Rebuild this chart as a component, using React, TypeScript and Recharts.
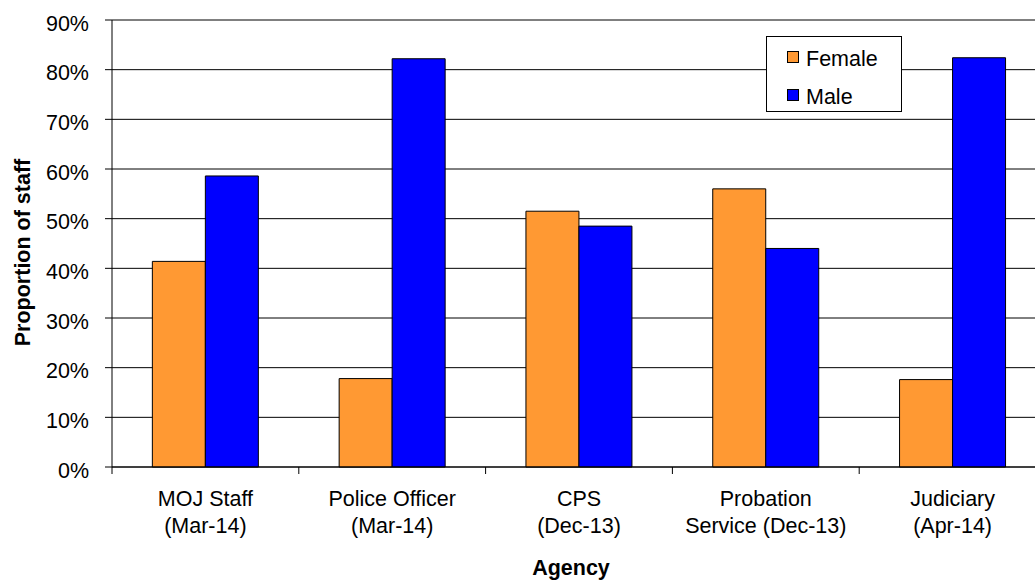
import { BarChart, Bar, XAxis, YAxis, CartesianGrid, Legend, Label } from 'recharts';

const agencies = ['MOJ Staff', 'Police Officer', 'CPS', 'Probation Service', 'Judiciary'];
const labelTop = ['MOJ Staff', 'Police Officer', 'CPS', 'Probation', 'Judiciary'];
const labelBottom = ['(Mar-14)', '(Mar-14)', '(Dec-13)', 'Service (Dec-13)', '(Apr-14)'];
const female = [41.4, 17.8, 51.5, 56.0, 17.6];
const male = [58.6, 82.2, 48.5, 44.0, 82.4];
const yTicks = [0, 10, 20, 30, 40, 50, 60, 70, 80, 90];

const data = agencies.map((agency, i) => ({ agency, Female: female[i], Male: male[i] }));

const FONT = '"Liberation Sans", Arial, sans-serif';
const FS = 21.5;

function AgencyTick(props: any) {
  const { x, y, width, visibleTicksCount, index, payload } = props;
  const half = width / visibleTicksCount / 2;
  const i = agencies.indexOf(payload.value);
  return (
    <g>
      <line x1={x - half} x2={x - half} y1={y} y2={y + 7} stroke="#000" />
      {index === visibleTicksCount - 1 && (
        <line x1={x + half} x2={x + half} y1={y} y2={y + 7} stroke="#000" />
      )}
      <text x={x} y={y} textAnchor="middle" fontSize={FS} fontFamily={FONT} fill="#000">
        <tspan x={x} dy={39}>{labelTop[i]}</tspan>
        <tspan x={x} dy={27}>{labelBottom[i]}</tspan>
      </text>
    </g>
  );
}

function LegendBox(props: any) {
  const items = props.payload || [];
  return (
    <div
      style={{
        position: 'relative',
        width: 136,
        height: 76,
        border: '1px solid #000',
        background: '#fff',
        boxSizing: 'border-box',
        fontFamily: FONT,
        fontSize: FS,
        color: '#000',
      }}
    >
      {items.map((item: any, i: number) => (
        <div key={item.value}>
          <div
            style={{
              position: 'absolute',
              left: 20,
              top: 14 + i * 37.5,
              width: 12,
              height: 12,
              background: item.color,
              border: '1px solid #000',
              boxSizing: 'border-box',
            }}
          />
          <div style={{ position: 'absolute', left: 39, top: 10 + i * 37.5, lineHeight: 'normal' }}>
            {item.value}
          </div>
        </div>
      ))}
    </div>
  );
}

export default function App() {
  return (
    <div
      style={{
        position: 'absolute',
        left: 0,
        top: 0,
        width: 1035,
        height: 581,
        overflow: 'hidden',
        background: '#fff',
        fontFamily: FONT,
      }}
    >
      <BarChart
        width={1046}
        height={581}
        data={data}
        margin={{ top: 20, right: 0, left: 0, bottom: 0 }}
        barCategoryGap="21.6%"
        barGap={0}
      >
        <CartesianGrid vertical={false} stroke="#000" />
        <XAxis
          dataKey="agency"
          interval={0}
          height={114}
          tickSize={0}
          tickMargin={0}
          tickLine={false}
          axisLine={{ stroke: '#000' }}
          tick={<AgencyTick />}
        >
          <Label
            content={({ viewBox }: any) => (
              <text
                x={viewBox.x + viewBox.width / 2 - 8}
                y={viewBox.y + 108}
                textAnchor="middle"
                fontWeight="bold"
                fontSize={FS}
                fontFamily={FONT}
                fill="#000"
              >
                Agency
              </text>
            )}
          />
        </XAxis>
        <YAxis
          width={112}
          domain={[0, 90]}
          ticks={yTicks}
          interval={0}
          tickFormatter={(v: number) => `${v}%`}
          tickSize={7}
          tickMargin={16}
          axisLine={{ stroke: '#000' }}
          tickLine={{ stroke: '#000' }}
          tick={{ fill: '#000', fontSize: FS, fontFamily: FONT, dy: 3 }}
        >
          <Label
            content={({ viewBox }: any) => {
              const cx = viewBox.x + 30;
              const cy = viewBox.y + viewBox.height / 2 + 9;
              return (
                <text
                  x={cx}
                  y={cy}
                  transform={`rotate(-90 ${cx} ${cy})`}
                  textAnchor="middle"
                  fontWeight="bold"
                  fontSize={FS}
                  fontFamily={FONT}
                  fill="#000"
                >
                  Proportion of staff
                </text>
              );
            }}
          />
        </YAxis>
        <Legend
          layout="vertical"
          align="center"
          verticalAlign="middle"
          wrapperStyle={{ left: 766, top: 36, width: 136 }}
          content={<LegendBox />}
        />
        <Bar dataKey="Female" fill="#FF9933" stroke="#000" strokeWidth={1} isAnimationActive={false} />
        <Bar dataKey="Male" fill="#0000FF" stroke="#000" strokeWidth={1} isAnimationActive={false} />
      </BarChart>
    </div>
  );
}
